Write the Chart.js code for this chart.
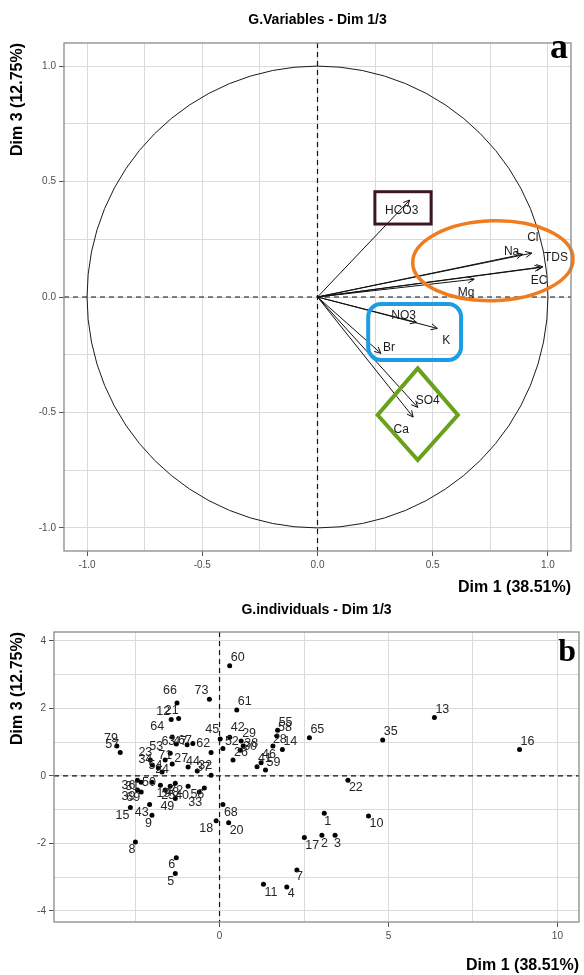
<!DOCTYPE html>
<html>
<head>
<meta charset="utf-8">
<script src="https://cdn.jsdelivr.net/npm/chart.js@4.4.1/dist/chart.umd.min.js"></script>
<style>
  body { margin: 0; background: #fff; }
  #wrapA { position: absolute; left: 0; top: 0; width: 584px; height: 600px; }
  #wrapB { position: absolute; left: 0; top: 600px; width: 584px; height: 375px; }
</style>
</head>
<body>
<div id="wrapA"><canvas id="chartA" width="584" height="600"></canvas></div>
<div id="wrapB"><canvas id="chartB" width="584" height="375"></canvas></div>
<script>
// ---- panel a : variables (coordinates on Dim 1 / Dim 3)
const varNames = ['HCO3', 'Cl', 'Na', 'TDS', 'EC', 'Mg', 'NO3', 'K', 'Br', 'SO4', 'Ca'];
const varDim1 = [0.40, 0.93, 0.89, 0.978, 0.97, 0.68, 0.43, 0.52, 0.275, 0.435, 0.415];
const varDim3 = [0.42, 0.19, 0.185, 0.131, 0.128, 0.077, -0.11, -0.136, -0.244, -0.478, -0.52];

const gridA = [-1, -0.75, -0.5, -0.25, 0, 0.25, 0.5, 0.75, 1];
const tickLabelsA = [-1, -0.5, 0, 0.5, 1];

// ---- panel b : individuals
const indNames = ['60', '73', '66', '61', '12', '21', '64', '63', '47', '67', '62', '45', '52', '42',
  '29', '38', '30', '26', '55', '58', '28', '14', '41', '46', '59', '65', '35', '13', '16', '22',
  '1', '10', '68', '20', '18', '17', '2', '3', '6', '5', '7', '11', '4', '8', '15', '43', '9', '49',
  '79', '57', '53', '23', '34', '71', '54', '24', '27', '44', '37', '32', '36', '31', '50', '39',
  '69', '19', '25', '48', '72', '40', '56', '33'];
const indDim1 = [0.30, -0.30, -1.26, 0.51, -1.43, -1.21, -1.40, -1.28, -0.96, -0.79, -0.25, 0.02, 0.10, 0.30,
  0.64, 0.70, 0.61, 0.40, 1.72, 1.70, 1.58, 1.86, 1.11, 1.23, 1.36, 2.66, 4.83, 6.36, 8.88, 3.80,
  3.10, 4.41, 0.10, 0.27, -0.10, 2.51, 3.03, 3.42, -1.28, -1.31, 2.29, 1.30, 1.99, -2.49, -2.64, -2.07, -2.00, -1.31,
  -3.04, -2.94, -1.46, -2.05, -1.99, -1.61, -1.81, -1.70, -1.40, -0.93, -0.25, -0.66, -2.43, -2.32, -2.00, -2.43,
  -2.32, -1.75, -1.61, -1.46, -1.31, -0.93, -0.45, -0.60];
const indDim3 = [3.26, 2.27, 2.16, 1.95, 1.67, 1.70, 1.15, 0.94, 0.92, 0.96, 0.69, 1.09, 0.81, 1.14,
  1.03, 0.88, 0.76, 0.47, 1.35, 1.18, 0.88, 0.78, 0.27, 0.39, 0.17, 1.13, 1.06, 1.73, 0.78, -0.13,
  -1.11, -1.19, -0.85, -1.39, -1.33, -1.83, -1.76, -1.76, -2.43, -2.89, -2.79, -3.21, -3.29, -1.96, -0.94, -0.85, -1.17, -0.67,
  0.88, 0.69, 0.67, 0.47, 0.32, 0.47, 0.23, 0.11, 0.35, 0.26, 0.02, 0.14, -0.13, -0.19, -0.19, -0.42,
  -0.48, -0.28, -0.42, -0.31, -0.22, -0.31, -0.36, -0.48];

const gridBx = [-2.5, 0, 2.5, 5, 7.5, 10];
const tickLabelsBx = [0, 5, 10];
const gridBy = [-4, -3, -2, -1, 0, 1, 2, 3, 4];
const tickLabelsBy = [-4, -2, 0, 2, 4];

// label placement (pixels from the point): [dx, dy, align]
const varLabelPos = {
  HCO3: [-8, 11, 'center'], Cl: [1, -15, 'center'], Na: [-11, -3, 'center'], TDS: [13, -9, 'center'],
  EC: [-2, 13, 'center'], Mg: [-8, 13, 'center'], NO3: [-13, -7, 'center'], K: [9, 12, 'center'],
  Br: [8, -6, 'center'], SO4: [10, -7, 'center'], Ca: [-12, 13, 'center']
};
const indLabelPos = {
  '73': [-1, -9, 'right'], '66': [0, -12, 'right'], '12': [-1, -8, 'right'], '21': [0, -8, 'right'],
  '64': [-8, -10, 'right'], '63': [-1, -3, 'right'], '47': [0, -3, 'right'], '67': [-1, -3, 'right'],
  '62': [-1, -9, 'right'], '45': [-1, -9, 'right'], '52': [2, -7, 'left'], '42': [1, -10, 'left'],
  '29': [1, -7, 'left'], '38': [1, -3, 'left'], '30': [3, -4, 'left'], '26': [1, -7, 'left'],
  '28': [0, -7, 'left'], '22': [1, 7, 'left'], '1': [0, 8, 'left'], '10': [1, 8, 'left'],
  '68': [1, 8, 'left'], '20': [1, 8, 'left'], '18': [-3, 8, 'right'], '17': [1, 8, 'left'],
  '2': [-1, 8, 'left'], '3': [-1, 8, 'left'], '6': [-1, 7, 'right'], '5': [-1, 8, 'right'],
  '7': [-1, 7, 'left'], '11': [1, 8, 'left'], '4': [1, 7, 'left'], '8': [0, 8, 'right'],
  '15': [-1, 8, 'right'], '43': [-1, 8, 'right'], '9': [0, 8, 'right'], '49': [-1, 8, 'right'],
  '79': [1, -8, 'right'], '57': [-1, -8, 'right'], '53': [-7, -7, 'right'], '23': [2, -7, 'right'],
  '34': [0, -5, 'right'], '71': [0, -4, 'center'], '54': [-3, -3, 'center'], '24': [0, -3, 'center'],
  '27': [2, -5, 'left'], '44': [-2, -5, 'left'], '37': [-1, -8, 'right'], '32': [1, -6, 'left'],
  '36': [-2, 5, 'right'], '31': [-2, 4, 'right'], '50': [-3, 0, 'center'], '39': [-2, 7, 'right'],
  '69': [-1, 6, 'right'], '19': [3, 8, 'center'], '25': [3, 6, 'center'], '48': [2, 6, 'center'],
  '72': [1, 7, 'center'], '40': [-6, 9, 'center'], '56': [-7, 7, 'center'], '33': [-4, 11, 'center']
};

const FONT = '"Liberation Sans", Arial, sans-serif';

function axisCommon(grid, labels, fmt, fitKey, fitVal) {
  return {
    type: 'linear',
    afterBuildTicks: s => { s.ticks = grid.map(v => ({ value: v })); },
    afterFit: s => { s[fitKey] = fitVal; },
    border: { display: false },
    grid: {
      color: '#dadada', lineWidth: 1, tickLength: 5,
      tickColor: c => (c.tick && labels.includes(c.tick.value)) ? '#555' : 'rgba(0,0,0,0)'
    },
    ticks: {
      autoSkip: false, maxRotation: 0, padding: 3, color: '#4d4d4d',
      font: { family: FONT, size: 10 },
      callback: v => labels.includes(v) ? fmt(v) : ''
    }
  };
}

function dashedZero(chart) {
  const { ctx, chartArea: a, scales: { x, y } } = chart;
  ctx.save();
  ctx.strokeStyle = '#111';
  ctx.lineWidth = 1.2;
  ctx.setLineDash([5, 4]);
  ctx.beginPath();
  const x0 = x.getPixelForValue(0), y0 = y.getPixelForValue(0);
  ctx.moveTo(a.left, y0); ctx.lineTo(a.right, y0);
  ctx.moveTo(x0, a.top); ctx.lineTo(x0, a.bottom);
  ctx.stroke();
  ctx.restore();
}

function frameAndTitle(chart, title, letter, letterSize, letterBase) {
  const { ctx, chartArea: a } = chart;
  ctx.save();
  ctx.strokeStyle = '#8a8a8a';
  ctx.lineWidth = 1.3;
  ctx.strokeRect(a.left, a.top, a.right - a.left, a.bottom - a.top);
  ctx.fillStyle = '#000';
  ctx.font = 'bold 14px ' + FONT;
  ctx.textAlign = 'center';
  ctx.textBaseline = 'middle';
  ctx.fillText(title, (a.left + a.right) / 2, a.top - (letter === 'a' ? 23 : 22));
  ctx.font = 'bold ' + letterSize + 'px "Liberation Serif", "Times New Roman", serif';
  ctx.textAlign = 'right';
  ctx.textBaseline = 'alphabetic';
  ctx.fillText(letter, a.right - 3, letterBase);
  ctx.restore();
}

// circle, arrows, labels and highlight shapes of panel a
const panelA = {
  id: 'panelA',
  beforeDatasetsDraw(chart) {
    const { ctx, scales: { x, y } } = chart;
    const cx = x.getPixelForValue(0), cy = y.getPixelForValue(0);
    ctx.save();
    ctx.beginPath();
    ctx.ellipse(cx, cy, x.getPixelForValue(1) - cx, cy - y.getPixelForValue(1), 0, 0, Math.PI * 2);
    ctx.strokeStyle = '#1a1a1a';
    ctx.lineWidth = 1;
    ctx.stroke();
    ctx.restore();
    dashedZero(chart);
  },
  afterDatasetsDraw(chart) {
    const { ctx, scales: { x, y } } = chart;
    const ox = x.getPixelForValue(0), oy = y.getPixelForValue(0);
    const pts = chart.getDatasetMeta(0).data;
    ctx.save();
    ctx.strokeStyle = '#111';
    ctx.lineWidth = 1;
    pts.forEach(p => {
      const ang = Math.atan2(p.y - oy, p.x - ox);
      ctx.beginPath();
      ctx.moveTo(ox, oy);
      ctx.lineTo(p.x, p.y);
      [0.45, -0.45].forEach(d => {
        ctx.moveTo(p.x, p.y);
        ctx.lineTo(p.x - 7 * Math.cos(ang + d), p.y - 7 * Math.sin(ang + d));
      });
      ctx.stroke();
    });
    ctx.fillStyle = '#1a1a1a';
    ctx.font = '12px ' + FONT;
    ctx.textBaseline = 'middle';
    pts.forEach((p, i) => {
      const [dx, dy, al] = varLabelPos[varNames[i]];
      ctx.textAlign = al;
      ctx.fillText(varNames[i], p.x + dx, p.y + dy);
    });

    // highlight groups
    const px = v => x.getPixelForValue(v), py = v => y.getPixelForValue(v);
    ctx.lineWidth = 3;
    ctx.strokeStyle = '#3d1720';
    ctx.strokeRect(px(0.249), py(0.456), px(0.493) - px(0.249), py(0.316) - py(0.456));

    ctx.lineWidth = 3.5;
    ctx.strokeStyle = '#f07c1e';
    ctx.beginPath();
    ctx.ellipse(px(0.761), py(0.157), px(0.348) - px(0), py(0) - py(0.173), -0.03, 0, Math.PI * 2);
    ctx.stroke();

    ctx.lineWidth = 4;
    ctx.strokeStyle = '#1c9ce3';
    ctx.beginPath();
    ctx.roundRect(px(0.22), py(-0.03), px(0.623) - px(0.22), py(-0.273) - py(-0.03), 13);
    ctx.stroke();

    ctx.strokeStyle = '#69a11c';
    ctx.beginPath();
    ctx.moveTo(px(0.435), py(-0.309));
    ctx.lineTo(px(0.609), py(-0.511));
    ctx.lineTo(px(0.435), py(-0.706));
    ctx.lineTo(px(0.261), py(-0.511));
    ctx.closePath();
    ctx.stroke();
    ctx.restore();
  },
  afterDraw(chart) {
    frameAndTitle(chart, 'G.Variables - Dim 1/3', 'a', 36, 58);
  }
};

const panelB = {
  id: 'panelB',
  beforeDatasetsDraw(chart) { dashedZero(chart); },
  afterDatasetsDraw(chart) {
    const { ctx } = chart;
    const pts = chart.getDatasetMeta(0).data;
    ctx.save();
    ctx.fillStyle = '#262626';
    ctx.font = '12.5px ' + FONT;
    ctx.textBaseline = 'middle';
    pts.forEach((p, i) => {
      const [dx, dy, al] = indLabelPos[indNames[i]] || [1, -8, 'left'];
      ctx.textAlign = al;
      ctx.fillText(indNames[i], p.x + dx, p.y + dy);
    });
    ctx.restore();
  },
  afterDraw(chart) {
    frameAndTitle(chart, 'G.individuals - Dim 1/3', 'b', 32, 61);
  }
};

const axisTitleFont = { family: FONT, size: 16, weight: 'bold' };

const xA = axisCommon(gridA, tickLabelsA, v => v.toFixed(1), 'height', 49);
xA.min = -1.1; xA.max = 1.1;
xA.title = { display: true, text: 'Dim 1 (38.51%)', align: 'end', color: '#000', font: axisTitleFont, padding: { top: 0, bottom: 3 } };
const yA = axisCommon(gridA, tickLabelsA, v => v.toFixed(1), 'width', 64);
yA.min = -1.1; yA.max = 1.1;
yA.title = { display: true, text: 'Dim 3 (12.75%)', align: 'end', color: '#000', font: axisTitleFont, padding: { top: 8, bottom: 0 } };

new Chart(document.getElementById('chartA'), {
  type: 'scatter',
  data: {
    datasets: [{
      label: 'variables',
      data: varNames.map((n, i) => ({ x: varDim1[i], y: varDim3[i] })),
      pointRadius: 0
    }]
  },
  options: {
    responsive: false,
    animation: false,
    layout: { padding: { top: 43, right: 13, left: 0, bottom: 0 } },
    plugins: { legend: { display: false }, tooltip: { enabled: false } },
    scales: { x: xA, y: yA }
  },
  plugins: [panelA]
});

const xB = axisCommon(gridBx, tickLabelsBx, v => String(v), 'height', 53);
xB.min = -4.9; xB.max = 10.64;
xB.title = { display: true, text: 'Dim 1 (38.51%)', align: 'end', color: '#000', font: axisTitleFont, padding: { top: 0, bottom: 0 } };
const yB = axisCommon(gridBy, tickLabelsBy, v => String(v), 'width', 54);
yB.min = -4.33; yB.max = 4.26;
yB.title = { display: true, text: 'Dim 3 (12.75%)', align: 'end', color: '#000', font: axisTitleFont, padding: { top: 8, bottom: 0 } };

new Chart(document.getElementById('chartB'), {
  type: 'scatter',
  data: {
    datasets: [{
      label: 'individuals',
      data: indNames.map((n, i) => ({ x: indDim1[i], y: indDim3[i] })),
      pointRadius: 2.5,
      pointBorderWidth: 0,
      backgroundColor: '#000'
    }]
  },
  options: {
    responsive: false,
    animation: false,
    layout: { padding: { top: 32, right: 5, left: 0, bottom: 0 } },
    plugins: { legend: { display: false }, tooltip: { enabled: false } },
    scales: { x: xB, y: yB }
  },
  plugins: [panelB]
});
</script>
</body>
</html>
